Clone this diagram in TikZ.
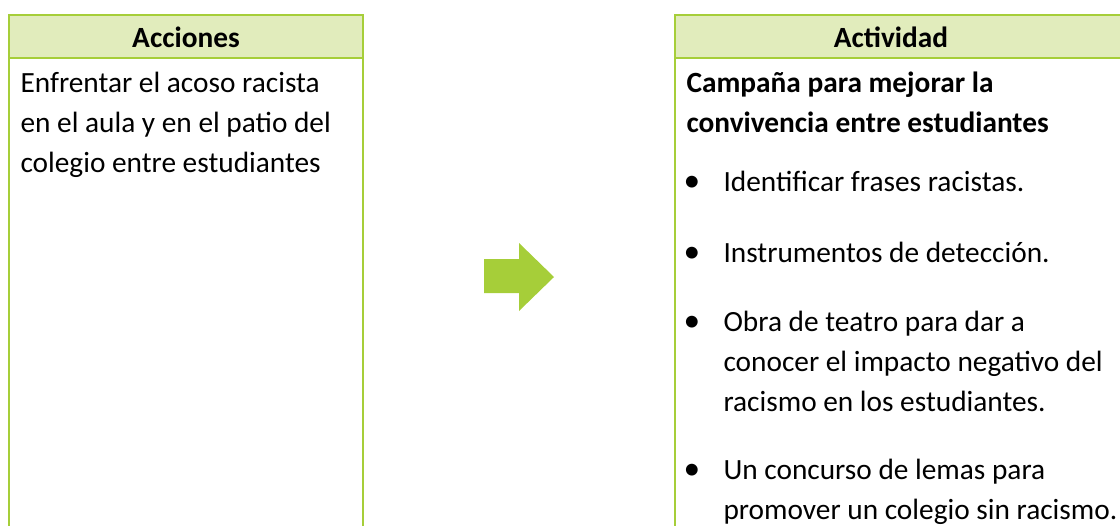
\documentclass[tikz,border=0pt]{standalone}
\usepackage{fontspec}
\setmainfont{Carlito}
\usepackage{xcolor}
\usepackage{tikz}
\usetikzlibrary{positioning}
\definecolor{verde}{RGB}{166,206,57}
\definecolor{verdeclaro}{RGB}{225,236,188}
\tikzset{
  caja/.style     = {draw=verde, line width=1pt},
  cabecera/.style = {caja, fill=verdeclaro},
  titulo/.style   = {font=\fontsize{11}{15}\selectfont\bfseries, anchor=base, inner sep=0pt},
  texto/.style    = {font=\fontsize{11}{15}\selectfont, align=left, anchor=base west,
                    inner sep=0pt},
  vineta/.style   = {font=\fontsize{12.5}{15}\selectfont, anchor=base, inner sep=0pt},
  flecha/.style   = {fill=verde, draw=none}
}
\begin{document}
\begin{tikzpicture}[x=0.375pt,y=-0.375pt]
  \useasboundingbox (0,0) rectangle (1120,525);
  \clip (0,0) rectangle (1120,525);
  % columna izquierda
  \draw[cabecera] (9,15) rectangle (363,58);
  \draw[caja] (9,58) -- (9,540) (363,58) -- (363,540);
  \node[titulo] (acciones) at (186,47) {Acciones};
  \node[texto] (accion) at (20,172) {Enfrentar el acoso racista\\en el aula y en el patio del\\colegio entre estudiantes};
  % flecha
  \fill[flecha] (484,259) -- (519,259) -- (519,243) -- (554,277) -- (519,311)
               -- (519,293) -- (484,293) -- cycle;
  % columna derecha
  \draw[cabecera] (675,15) rectangle (1140,58);
  \draw[caja] (675,58) -- (675,540);
  \node[titulo] (actividad) at (891,47) {Actividad};
  \node[texto, font=\fontsize{11}{15}\selectfont\bfseries] (campana) at (686,132) {Campaña para mejorar la\\convivencia entre estudiantes};
  \node[vineta] (v1) at (692,191) {\textbullet};
  \node[texto] (frases) at (723,191) {Identificar frases racistas.};
  \node[vineta] (v2) at (692,262) {\textbullet};
  \node[texto] (instrumentos) at (723,262) {Instrumentos de detección.};
  \node[vineta] (v3) at (692,331) {\textbullet};
  \node[texto] (obra) at (723,411) {Obra de teatro para dar a\\conocer el impacto negativo del\\racismo en los estudiantes.};
  \node[vineta] (v4) at (692,479) {\textbullet};
  \node[texto] (concurso) at (723,519) {Un concurso de lemas para\\promover un colegio sin racismo.};
\end{tikzpicture}
\end{document}
